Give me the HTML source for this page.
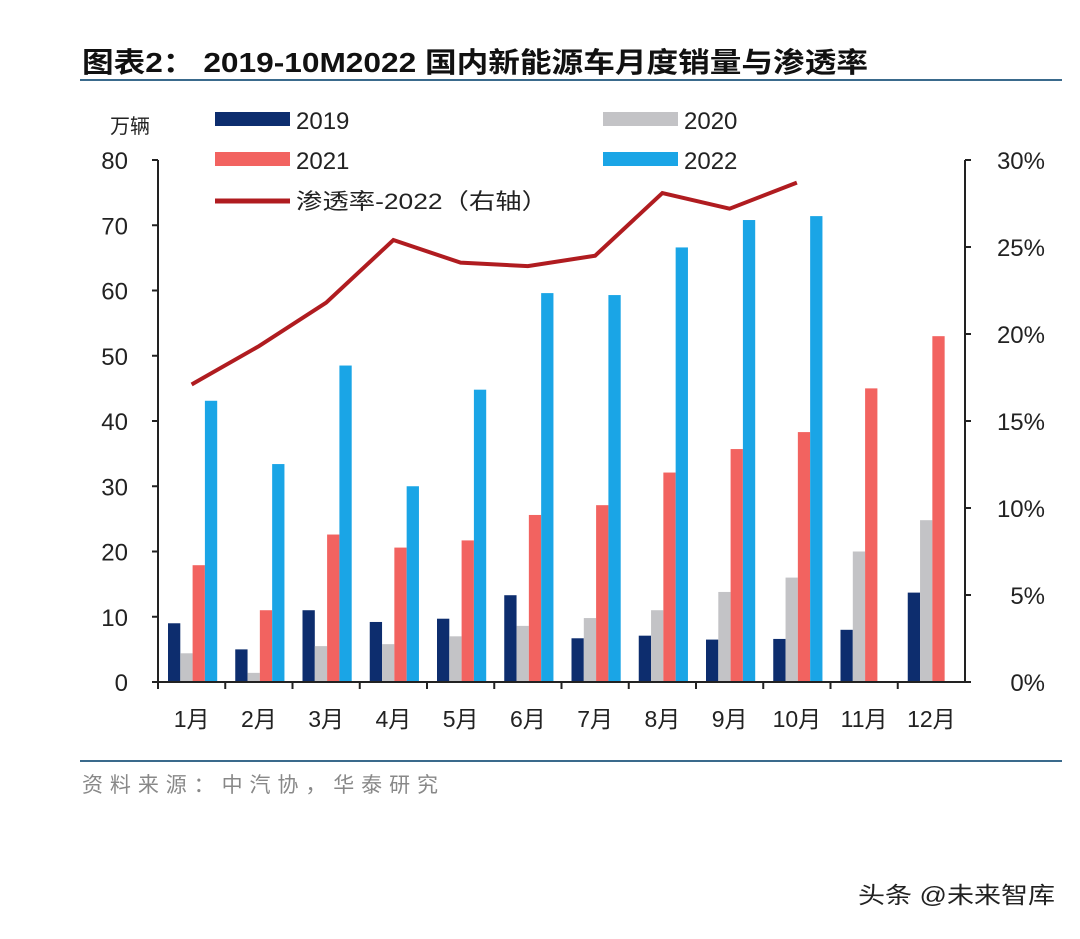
<!DOCTYPE html>
<html><head><meta charset="utf-8"><style>
body{margin:0;background:#fff;width:1080px;height:934px;overflow:hidden;font-family:"Liberation Sans","Noto Sans CJK SC",sans-serif;}
</style></head><body>
<svg width="1080" height="934" xmlns="http://www.w3.org/2000/svg" font-family="Liberation Sans, Noto Sans CJK SC, sans-serif">
<text x="82" y="72" font-size="28" font-weight="bold" fill="#111" textLength="786" lengthAdjust="spacingAndGlyphs">图表2：  2019-10M2022 国内新能源车月度销量与渗透率</text>
<line x1="80" y1="80" x2="1062" y2="80" stroke="#3a6a8c" stroke-width="2"/>
<text x="110" y="133" font-size="20" fill="#222">万辆</text>
<g id="legend">
<rect x="215" y="112" width="75" height="14" fill="#0d2d6e"/><text x="296" y="129" font-size="24" fill="#222">2019</text>
<rect x="603" y="112" width="75" height="14" fill="#c3c3c6"/><text x="684" y="129" font-size="24" fill="#222">2020</text>
<rect x="215" y="152" width="75" height="14" fill="#f26360"/><text x="296" y="169" font-size="24" fill="#222">2021</text>
<rect x="603" y="152" width="75" height="14" fill="#1aa5e6"/><text x="684" y="169" font-size="24" fill="#222">2022</text>
<line x1="215" y1="201" x2="290" y2="201" stroke="#b01c20" stroke-width="5"/><text x="296" y="209" font-size="22" fill="#222" textLength="252" lengthAdjust="spacingAndGlyphs">渗透率-2022（右轴）</text>
</g>
<g id="plot"></g>
<line x1="80" y1="761" x2="1062" y2="761" stroke="#3a6a8c" stroke-width="2"/>
<text x="82" y="792" font-size="21" fill="#888" textLength="356" lengthAdjust="spacing">资料来源：中汽协，华泰研究</text>
<text x="858" y="903" font-size="23" fill="#222" textLength="197" lengthAdjust="spacingAndGlyphs">头条 @未来智库</text>
</svg>
<script>
const months=["1月","2月","3月","4月","5月","6月","7月","8月","9月","10月","11月","12月"];
const s2019=[9,5,11,9.2,9.7,13.3,6.7,7.1,6.5,6.6,8,13.7];
const s2020=[4.4,1.4,5.5,5.8,7,8.6,9.8,11,13.8,16,20,24.8];
const s2021=[17.9,11,22.6,20.6,21.7,25.6,27.1,32.1,35.7,38.3,45,53];
const s2022=[43.1,33.4,48.5,30,44.8,59.6,59.3,66.6,70.8,71.4];
const pen2022=[17.1,19.3,21.8,25.4,24.1,23.9,24.5,28.1,27.2,28.7];
const leftTicks=[0,10,20,30,40,50,60,70,80];
const rightTicks=[0,5,10,15,20,25,30];
const NS="http://www.w3.org/2000/svg";
const g=document.getElementById('plot');
const X0=158,X1=965,Y0=682,Y1=160,step=(X1-X0)/12;
const yL=v=>Y0-(Y0-Y1)*v/80, yR=v=>Y0-(Y0-Y1)*v/30, xc=i=>X0+step*(i+0.5);
function mk(t,a){const e=document.createElementNS(NS,t);for(const k in a)e.setAttribute(k,a[k]);g.appendChild(e);return e;}
const series=[[s2019,"#0d2d6e","2019"],[s2020,"#c3c3c6","2020"],[s2021,"#f26360","2021"],[s2022,"#1aa5e6","2022"]];
series.forEach((s,si)=>{s[0].forEach((v,i)=>{
 const r=mk('rect',{x:X0+step*i+10+si*12.3,y:yL(v),width:12.3,height:Y0-yL(v),fill:s[1]});
 
 
});});
let ax=mk('line',{x1:X0,y1:Y1,x2:X0,y2:Y0,stroke:'#222','stroke-width':2});

ax=mk('line',{x1:X1,y1:Y1,x2:X1,y2:Y0,stroke:'#222','stroke-width':2});

ax=mk('line',{x1:X0,y1:Y0,x2:X1,y2:Y0,stroke:'#222','stroke-width':2});

leftTicks.forEach(v=>{mk('line',{x1:X0-6,y1:yL(v),x2:X0,y2:yL(v),stroke:'#222','stroke-width':2});
 const t=mk('text',{x:128,y:yL(v)+9,'font-size':24,'text-anchor':'end',fill:'#222'});t.textContent=v;
 });
rightTicks.forEach(v=>{mk('line',{x1:X1,y1:yR(v),x2:X1+6,y2:yR(v),stroke:'#222','stroke-width':2});
 const t=mk('text',{x:1045,y:yR(v)+9,'font-size':24,'text-anchor':'end',fill:'#222'});t.textContent=v+'%';
 });
months.forEach((m,i)=>{mk('line',{x1:X0+step*i,y1:Y0,x2:X0+step*i,y2:Y0+7,stroke:'#222','stroke-width':2});
 const t=mk('text',{x:xc(i),y:727,'font-size':23,'text-anchor':'middle',fill:'#222'});t.textContent=m;
 });
const pl=mk('polyline',{points:pen2022.map((v,i)=>xc(i)+','+yR(v)).join(' '),fill:'none',stroke:'#b01c20','stroke-width':4,'stroke-linejoin':'miter'});

</script>
</body></html>
